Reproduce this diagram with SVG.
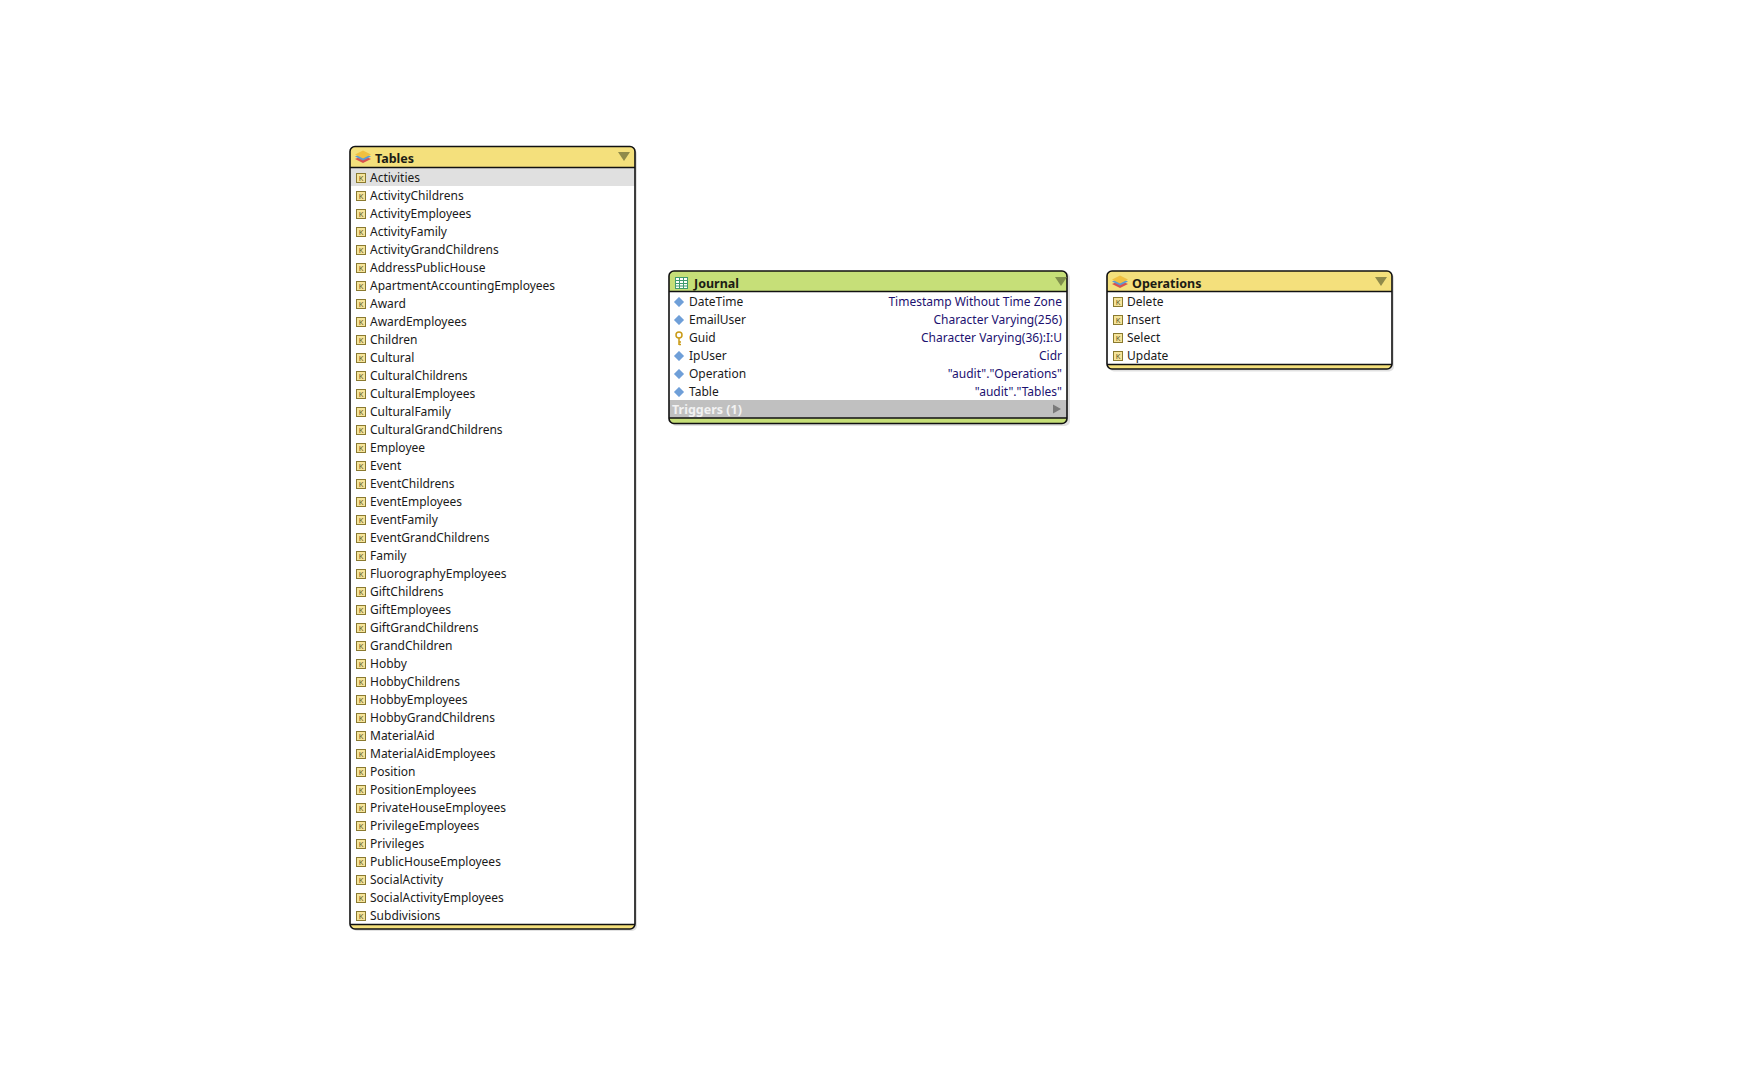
<svg xmlns="http://www.w3.org/2000/svg" width="1740" height="1075" viewBox="0 0 1740 1075">
<style>
text{font-family:"Noto Sans","DejaVu Sans",sans-serif;font-size:12px;fill:#1a1a1a}
.title{font-weight:700;font-size:12.5px;fill:#1c1c14}
.type{fill:#1c1170;text-anchor:end}
.trig{font-weight:700;fill:#f2f2f2;font-size:12.5px}
.frame{fill:none;stroke:#111;stroke-width:1.6}
.shadow{fill:#c8c8c8;opacity:.55}
.sep{stroke:#111;stroke-width:1.4}
.y{fill:#f4e07c}.g{fill:#c6df78}
.tri{fill:#8f8a4a}.trg{fill:#7f8f4c}
</style>
<defs>
<symbol id="k" width="12" height="12" viewBox="0 0 12 12" overflow="visible">
<rect x="1.5" y="1.5" width="9" height="9" fill="#f5e49a" stroke="#8a7a30"/>
<text x="6" y="9" text-anchor="middle" style="font-size:7.5px;fill:#5a5020">K</text>
</symbol>
<symbol id="layers" width="18" height="14" viewBox="0 0 18 14">
<path d="M1 9 9 5.500 17 9 9 13Z" fill="#d9534f"/>
<path d="M1 6.500 9 3 17 6.500 9 10.500Z" fill="#5b9bd5"/>
<path d="M1 4.500 9 .5 17 4.500 9 8.500Z" fill="#f0c040"/>
</symbol>
<symbol id="d" width="12" height="12" viewBox="0 0 12 12"><path d="M6 1 11 6 6 11 1 6Z" fill="#6f9fd8" stroke="#a9c6ea" stroke-width=".8"/></symbol>
</defs>

<g id="connectors"></g>

<g id="tables">
<rect class="shadow" x="352" y="149" width="285" height="782" rx="5"/>
<path class="y" d="M355 146.500H630a5 5 0 0 1 5 5V167H350V151.500a5 5 0 0 1 5-5Z"/>
<rect x="350" y="167" width="285" height="757.500" fill="#fff"/>
<rect x="350.500" y="168" width="284" height="18" fill="#e0e0e0"/>
<path class="y" d="M350 924H635V924.500a4.500 4.500 0 0 1-4.500 4.500H354.500a4.500 4.500 0 0 1-4.500-4.500Z"/>
<rect class="frame" x="350" y="146.500" width="285" height="782.500" rx="5"/>
<line class="sep" x1="350" x2="635" y1="167.500" y2="167.500"/>
<line class="sep" x1="350" x2="635" y1="924.500" y2="924.500"/>
<use href="#layers" x="354" y="150"/>
<text class="title" x="375" y="163">Tables</text>
<path class="tri" d="M618 152H630L624 161Z"/>
<g transform="translate(355 172)"><use href="#k" y="0"/><use href="#k" y="18"/><use href="#k" y="36"/><use href="#k" y="54"/><use href="#k" y="72"/><use href="#k" y="90"/><use href="#k" y="108"/><use href="#k" y="126"/><use href="#k" y="144"/><use href="#k" y="162"/><use href="#k" y="180"/><use href="#k" y="198"/><use href="#k" y="216"/><use href="#k" y="234"/><use href="#k" y="252"/><use href="#k" y="270"/><use href="#k" y="288"/><use href="#k" y="306"/><use href="#k" y="324"/><use href="#k" y="342"/><use href="#k" y="360"/><use href="#k" y="378"/><use href="#k" y="396"/><use href="#k" y="414"/><use href="#k" y="432"/><use href="#k" y="450"/><use href="#k" y="468"/><use href="#k" y="486"/><use href="#k" y="504"/><use href="#k" y="522"/><use href="#k" y="540"/><use href="#k" y="558"/><use href="#k" y="576"/><use href="#k" y="594"/><use href="#k" y="612"/><use href="#k" y="630"/><use href="#k" y="648"/><use href="#k" y="666"/><use href="#k" y="684"/><use href="#k" y="702"/><use href="#k" y="720"/><use href="#k" y="738"/></g>
<text x="370" y="182">Activities</text>
<text x="370" y="200">ActivityChildrens</text>
<text x="370" y="218">ActivityEmployees</text>
<text x="370" y="236">ActivityFamily</text>
<text x="370" y="254">ActivityGrandChildrens</text>
<text x="370" y="272">AddressPublicHouse</text>
<text x="370" y="290">ApartmentAccountingEmployees</text>
<text x="370" y="308">Award</text>
<text x="370" y="326">AwardEmployees</text>
<text x="370" y="344">Children</text>
<text x="370" y="362">Cultural</text>
<text x="370" y="380">CulturalChildrens</text>
<text x="370" y="398">CulturalEmployees</text>
<text x="370" y="416">CulturalFamily</text>
<text x="370" y="434">CulturalGrandChildrens</text>
<text x="370" y="452">Employee</text>
<text x="370" y="470">Event</text>
<text x="370" y="488">EventChildrens</text>
<text x="370" y="506">EventEmployees</text>
<text x="370" y="524">EventFamily</text>
<text x="370" y="542">EventGrandChildrens</text>
<text x="370" y="560">Family</text>
<text x="370" y="578">FluorographyEmployees</text>
<text x="370" y="596">GiftChildrens</text>
<text x="370" y="614">GiftEmployees</text>
<text x="370" y="632">GiftGrandChildrens</text>
<text x="370" y="650">GrandChildren</text>
<text x="370" y="668">Hobby</text>
<text x="370" y="686">HobbyChildrens</text>
<text x="370" y="704">HobbyEmployees</text>
<text x="370" y="722">HobbyGrandChildrens</text>
<text x="370" y="740">MaterialAid</text>
<text x="370" y="758">MaterialAidEmployees</text>
<text x="370" y="776">Position</text>
<text x="370" y="794">PositionEmployees</text>
<text x="370" y="812">PrivateHouseEmployees</text>
<text x="370" y="830">PrivilegeEmployees</text>
<text x="370" y="848">Privileges</text>
<text x="370" y="866">PublicHouseEmployees</text>
<text x="370" y="884">SocialActivity</text>
<text x="370" y="902">SocialActivityEmployees</text>
<text x="370" y="920">Subdivisions</text>
</g>

<g id="journal">
<rect class="shadow" x="671" y="273" width="399" height="153" rx="5"/>
<path class="g" d="M674 271H1062a5 5 0 0 1 5 5V292H669V276a5 5 0 0 1 5-5Z"/>
<rect x="669" y="292" width="398" height="108" fill="#fff"/>
<rect x="669" y="400" width="398" height="18" fill="#c0c0c0"/>
<path class="g" d="M669 418H1067V419a4.500 4.500 0 0 1-4.500 4.500H673.500a4.500 4.500 0 0 1-4.500-4.500Z"/>
<rect class="frame" x="669" y="271" width="398" height="152.500" rx="5"/>
<line class="sep" x1="669" x2="1067" y1="291.500" y2="291.500"/>
<line class="sep" x1="669" x2="1067" y1="418" y2="418"/>
<rect x="675.500" y="277.500" width="12" height="11" fill="#fff" stroke="#3f9a6e"/>
<path d="M675.500 280.500H687.500M675.500 283.500H687.500M675.500 286H687.500M679.500 277.500V288.500M683.500 277.500V288.500" stroke="#3f9a6e" fill="none"/>
<text class="title" x="694" y="288">Journal</text>
<path class="trg" d="M1056 277H1068L1062 286Z" transform="translate(-1 0)"/>
<use href="#d" x="673" y="296"/><use href="#d" x="673" y="314"/>
<g fill="none" stroke="#c99a16" stroke-width="1.500"><circle cx="679" cy="335" r="3"/><path d="M679 338V345M679 342H681M679 344.500H681"/></g>
<use href="#d" x="673" y="350"/><use href="#d" x="673" y="368"/><use href="#d" x="673" y="386"/>
<text x="689" y="306">DateTime</text>
<text x="689" y="324">EmailUser</text>
<text x="689" y="342">Guid</text>
<text x="689" y="360">IpUser</text>
<text x="689" y="378">Operation</text>
<text x="689" y="396">Table</text>
<text class="type" x="1062" y="306">Timestamp Without Time Zone</text>
<text class="type" x="1062" y="324">Character Varying(256)</text>
<text class="type" x="1062" y="342">Character Varying(36):I:U</text>
<text class="type" x="1062" y="360">Cidr</text>
<text class="type" x="1062" y="378">"audit"."Operations"</text>
<text class="type" x="1062" y="396">"audit"."Tables"</text>
<text class="trig" x="672" y="414">Triggers (1)</text>
<path d="M1053 404.500 1061 409 1053 413.500Z" fill="#7a7a7a"/>
</g>

<g id="operations">
<rect class="shadow" x="1109" y="273" width="285" height="98.500" rx="5"/>
<path class="y" d="M1112 271H1387a5 5 0 0 1 5 5V292H1107V276a5 5 0 0 1 5-5Z"/>
<rect x="1107" y="292" width="285" height="72" fill="#fff"/>
<path class="y" d="M1107 364H1392V364.500a4.500 4.500 0 0 1-4.500 4.500H1111.500a4.500 4.500 0 0 1-4.500-4.500Z"/>
<rect class="frame" x="1107" y="271" width="285" height="98" rx="5"/>
<line class="sep" x1="1107" x2="1392" y1="291.500" y2="291.500"/>
<line class="sep" x1="1107" x2="1392" y1="364.500" y2="364.500"/>
<use href="#layers" x="1111" y="275"/>
<text class="title" x="1132" y="288">Operations</text>
<path class="tri" d="M1375 277H1387L1381 286Z"/>
<use href="#k" x="1112" y="296"/><use href="#k" x="1112" y="314"/><use href="#k" x="1112" y="332"/><use href="#k" x="1112" y="350"/>
<text x="1127" y="306">Delete</text>
<text x="1127" y="324">Insert</text>
<text x="1127" y="342">Select</text>
<text x="1127" y="360">Update</text>
</g>
</svg>
